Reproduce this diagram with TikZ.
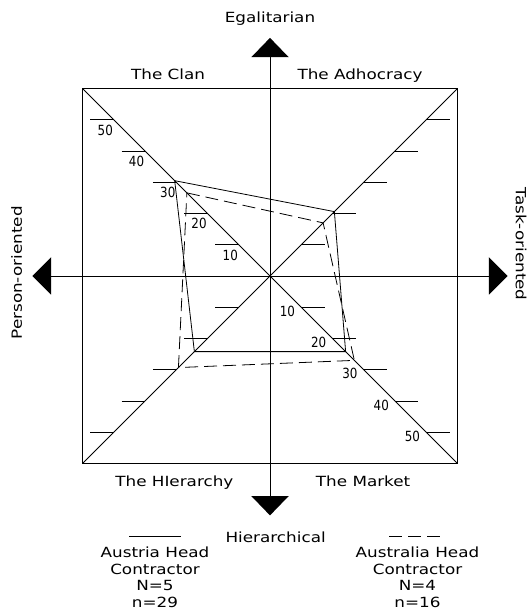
\documentclass[tikz,border=0pt]{standalone}
\usepackage{fontspec}
\setmainfont{DejaVu Sans}[FakeStretch=1.2]
\newfontfamily\numfont{DejaVu Sans}[FakeStretch=0.85]
\usepackage{tikz}
\usetikzlibrary{positioning,calc}

\begin{document}
\begin{tikzpicture}[x=31.25pt,y=31.25pt,
  every node/.style={font=\fontsize{14}{16.5}\selectfont},
  thinline/.style={line width=0.8pt},
  ticklabel/.style={font=\numfont\fontsize{14}{16.5}\selectfont},
  austria/.style={line width=0.8pt},
  australia/.style={line width=0.8pt,dash pattern=on 13pt off 6pt}]

% Canvas
\fill[white] (-8.64,-10.848) rectangle (8.224,8.832);
\useasboundingbox (-8.64,-10.848) rectangle (8.224,8.832);

% Frame and diagonals
\draw[thinline] (-6,-6) rectangle (6,6);
\draw[thinline] (-6,6) -- (6,-6);
\draw[thinline] (-6,-6) -- (6,6);

% Axes
\coordinate (top) at (0,7);
\coordinate (bottom) at (0,-7.04);
\coordinate (left) at (-7,0);
\coordinate (right) at (7,0);
\draw[thinline] (top) -- (bottom);
\draw[thinline] (left) -- (right);

% Arrow heads
\fill (-0.6,7) -- (0.6,7) -- (0,7.62) -- cycle;
\fill (-0.6,-7.04) -- (0.6,-7.04) -- (0,-7.66) -- cycle;
\fill (-7,0.6) -- (-7,-0.6) -- (-7.6,0) -- cycle;
\fill (7,0.6) -- (7,-0.6) -- (7.6,0) -- cycle;

% Scale ticks
\foreach \v in {1,...,5}{
  \draw[thinline] (-\v-0.75,\v) -- (-\v,\v);
  \draw[thinline] (\v,\v) -- (\v+0.75,\v);
  \draw[thinline] (\v,-\v) -- (\v+0.75,-\v);
  \draw[thinline] (-\v-0.75,-\v) -- (-\v,-\v);
  \node[ticklabel] (ul\v) at (-\v-0.27,\v-0.33) {\v0};
  \node[ticklabel] (lr\v) at (\v-0.44,-\v-0.13) {\v0};
}

% Austria head contractor
\coordinate (a1) at (-3.05,3.05);
\coordinate (a2) at (2.06,2.06);
\coordinate (a3) at (2.42,-2.42);
\coordinate (a4) at (-2.42,-2.42);
\draw[austria] (a1) -- (a2) -- (a3) -- (a4) -- cycle;

% Australia head contractor
\coordinate (b1) at (-2.66,2.66);
\coordinate (b2) at (1.70,1.70);
\coordinate (b3) at (2.70,-2.70);
\coordinate (b4) at (-2.93,-2.93);
\draw[australia] (b1) -- (b2) -- (b3) -- (b4) -- cycle;

% Axis labels
\node[anchor=base] (egal) at (0,8.1) {Egalitarian};
\node[anchor=base] (hcal) at (0.18,-8.54) {Hierarchical};
\node[anchor=base,rotate=90] (pers) at (-7.94,0.1) {Person-oriented};
\node[anchor=base,rotate=-90] (task) at (7.87,1.02) {Task-oriented};

% Quadrant labels
\node[anchor=base] (clan) at (-3.26,6.3) {The Clan};
\node[anchor=base] (adho) at (2.88,6.3) {The Adhocracy};
\node[anchor=base] (hier) at (-3.06,-6.72) {The HIerarchy};
\node[anchor=base] (mark) at (2.98,-6.72) {The Market};

% Legend
\coordinate (ka1) at (-4.51,-8.32);
\coordinate (ka2) at (-2.85,-8.32);
\coordinate (kb1) at (3.81,-8.32);
\coordinate (kb2) at (5.50,-8.32);
\draw[austria] (ka1) -- (ka2);
\draw[australia] (kb1) -- (kb2);
\node[anchor=north,align=center,inner sep=0pt] (ausl) at (-3.68,-8.67)
  {Austria Head\\Contractor\\N=5\\n=29};
\node[anchor=north,align=center,inner sep=0pt] (aull) at (4.72,-8.67)
  {Australia Head\\Contractor\\N=4\\n=16};

\end{tikzpicture}
\end{document}
